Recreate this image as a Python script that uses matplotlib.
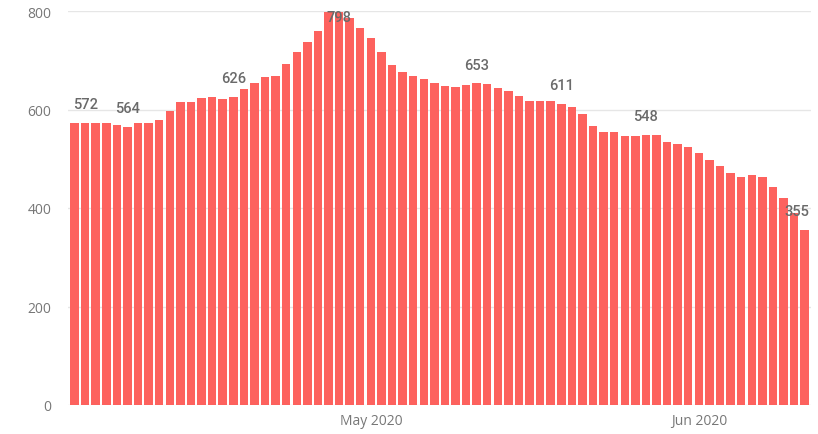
import matplotlib
matplotlib.use("Agg")
import matplotlib.pyplot as plt
import matplotlib.dates as mdates
import numpy as np
import pandas as pd

start_date = "2020-04-03"
values = [572, 572, 573, 573, 569, 564, 572, 573, 579, 597,
          616, 616, 623, 625, 622, 626, 641, 654, 666, 669,
          693, 717, 737, 759, 797, 798, 786, 766, 745, 716,
          691, 677, 669, 661, 654, 648, 646, 650, 653, 652,
          644, 638, 627, 618, 618, 617, 611, 605, 590, 566,
          554, 554, 547, 547, 548, 548, 535, 529, 523, 511,
          497, 485, 471, 463, 466, 462, 443, 420, 390, 355]
label_idx = [1, 5, 15, 25, 38, 46, 54, 69]
y_ticks = [0, 200, 400, 600, 800]
x_ticks = ["2020-05-01", "2020-06-01"]
x_tick_labels = ["May 2020", "Jun 2020"]

dates = pd.date_range(start_date, periods=len(values), freq="D")
xnum = mdates.date2num(dates.to_pydatetime())

fig = plt.figure(figsize=(8.18, 4.35), dpi=100)
ax = fig.add_axes([68/818, 29/435, (811-68)/818, (406-12)/435])

ax.bar(xnum, values, width=0.8, color="#FD625E", zorder=3)

ax.set_ylim(0, 800)
ax.set_xlim(xnum[0] - 0.62, xnum[-1] + 0.6)
ax.set_yticks(y_ticks)
ax.set_yticklabels([str(v) for v in y_ticks])
ax.set_xticks(mdates.date2num(pd.to_datetime(x_ticks).to_pydatetime()))
ax.set_xticklabels(x_tick_labels)
ax.grid(axis="y", color="#e6e6e6", linewidth=1.0, zorder=0)
for s in ax.spines.values():
    s.set_visible(False)
ax.tick_params(axis="both", length=0, colors="#777777", labelsize=10)
ax.tick_params(axis="y", pad=12)
ax.tick_params(axis="x", pad=6)
for lab in ax.get_xticklabels() + ax.get_yticklabels():
    lab.set_fontfamily(["Open Sans", "DejaVu Sans"])

lab_kw = dict(textcoords="offset points", fontsize=10.5, color="#6a6a6a",
              fontfamily=["Roboto", "DejaVu Sans"], fontweight="medium", zorder=5)
last = len(values) - 1
for i in label_idx:
    v = values[i]
    if v > 770:
        ax.annotate(str(v), (xnum[i], 800), xytext=(0, 1), ha="center", va="top", **lab_kw)
    elif i == last:
        ax.annotate(str(v), (xnum[i] + 0.4, v), xytext=(0, 8.5), ha="right", va="bottom", **lab_kw)
    else:
        ax.annotate(str(v), (xnum[i], v), xytext=(0, 8.5), ha="center", va="bottom", **lab_kw)

fig.savefig("out.png", dpi=100)
